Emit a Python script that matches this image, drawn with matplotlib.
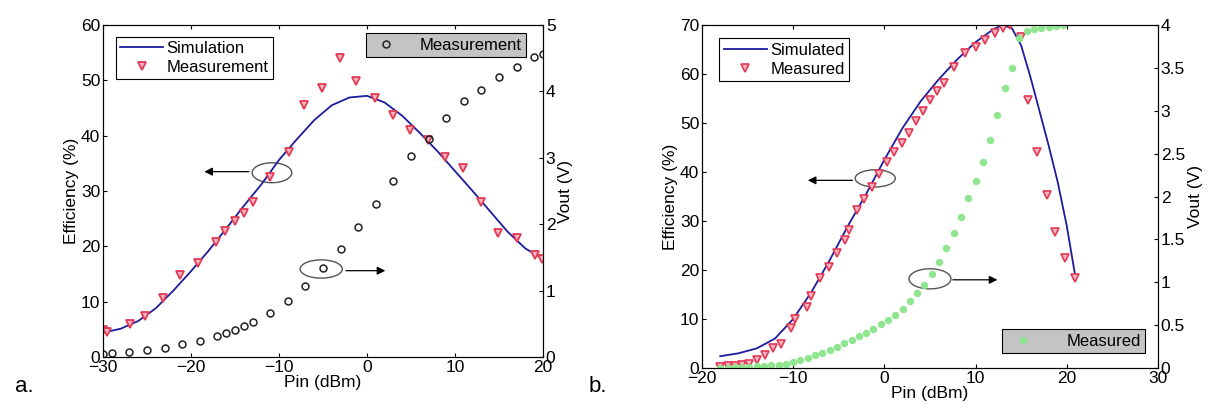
import matplotlib
matplotlib.use("Agg")
import matplotlib.pyplot as plt
from matplotlib.patches import Ellipse

plt.rcParams["font.family"] = ["Liberation Sans", "DejaVu Sans"]
plt.rcParams["font.size"] = 12

# ---- panel a data ----
a_sim_x = [-30, -28, -26, -24, -22, -20, -18, -16, -14, -12, -10, -8, -6, -4, -2, 0,
           2, 4, 6, 8, 10, 12, 14, 16, 18, 20]
a_sim_eff = [4.4, 5.1, 6.5, 8.8, 12.0, 15.5, 19.2, 23.2, 27.3, 31.2, 35.6, 39.3, 42.8,
             45.5, 46.9, 47.2, 46.0, 43.6, 40.5, 37.2, 33.6, 30.0, 26.3, 22.6, 19.6, 17.8]

a_meas_x = [-30, -29.5, -26.9, -25.2, -23.2, -21.3, -19.2, -17.2, -16.1, -15.0, -14.0,
            -12.9, -11.0, -8.9, -7.2, -5.1, -3.1, -1.2, 0.9, 2.9, 4.9, 6.9, 8.9, 10.9,
            13.0, 14.9, 17.0, 19.1, 19.9]
a_meas_eff = [4.8, 4.5, 6.0, 7.4, 10.6, 14.8, 16.9, 20.7, 22.7, 24.5, 26.0, 28.1, 32.6,
              37.1, 45.6, 48.6, 54.0, 49.8, 46.8, 43.8, 41.0, 39.2, 36.2, 34.1, 28.1,
              22.4, 21.5, 18.4, 17.8]

a_vout_x = [-30, -29, -27, -25, -23, -21, -19, -17, -16, -15, -14, -13, -11, -9, -7, -5,
            -3, -1, 1, 3, 5, 7, 9, 11, 13, 15, 17, 19, 20]
a_vout = [0.05, 0.06, 0.08, 0.10, 0.14, 0.20, 0.24, 0.32, 0.36, 0.40, 0.46, 0.52, 0.67,
          0.85, 1.07, 1.34, 1.62, 1.96, 2.31, 2.65, 3.02, 3.29, 3.60, 3.85, 4.02, 4.22,
          4.37, 4.52, 4.57]

# ---- panel b data ----
b_sim_x = [-18, -16, -14, -12, -10, -8, -6, -4, -2, 0, 2, 4, 6, 8, 10, 12, 13, 14, 15,
           16, 17, 18, 19, 20, 21]
b_sim_eff = [2.4, 3.0, 4.0, 6.0, 10.0, 15.5, 22.0, 29.0, 35.5, 42.5, 49.0, 54.5, 59.0,
             63.0, 66.5, 69.2, 70.0, 69.3, 65.8, 59.5, 52.5, 45.5, 38.0, 29.0, 18.0]

b_meas_x = [-18, -17.2, -16.4, -15.6, -14.8, -14.0, -13.1, -12.2, -11.3, -10.2, -9.8,
            -8.5, -8.0, -7.1, -6.1, -5.2, -4.3, -3.9, -3.0, -2.2, -1.4, -0.6, 0.3, 1.1,
            1.9, 2.7, 3.5, 4.2, 5.0, 5.8, 6.5, 7.6, 8.8, 10.1, 11.0, 12.1, 13.0, 13.8,
            15.0, 15.8, 16.7, 17.8, 18.7, 19.8, 20.9]
b_meas_eff = [0.3, 0.4, 0.5, 0.6, 0.9, 1.6, 2.6, 4.0, 5.0, 8.1, 10.1, 12.5, 14.6, 18.3,
              20.7, 23.4, 26.1, 28.2, 32.2, 34.5, 37.0, 39.5, 42.0, 44.0, 46.0, 48.0,
              50.5, 52.5, 54.7, 56.5, 58.1, 61.5, 64.2, 65.6, 66.9, 68.3, 69.3, 70.0,
              67.6, 54.7, 44.1, 35.3, 27.8, 22.4, 18.3]

b_vout_x = [-18, -17.2, -16.4, -15.6, -14.8, -14, -13.2, -12.4, -11.6, -10.8, -10, -9.2,
            -8.4, -7.6, -6.8, -6, -5.2, -4.4, -3.6, -2.8, -2, -1.2, -0.4, 0.4, 1.2, 2,
            2.8, 3.6, 4.4, 5.2, 6, 6.8, 7.6, 8.4, 9.2, 10, 10.8, 11.6, 12.4, 13.2, 14,
            14.8, 15.6, 16.4, 17.2, 18, 18.8, 19.6]
b_vout = [0.0, 0.0, 0.01, 0.01, 0.01, 0.02, 0.02, 0.03, 0.04, 0.05, 0.07, 0.09, 0.12,
          0.15, 0.18, 0.21, 0.25, 0.29, 0.33, 0.37, 0.41, 0.46, 0.51, 0.56, 0.62, 0.69,
          0.78, 0.87, 0.97, 1.10, 1.24, 1.40, 1.57, 1.76, 1.98, 2.18, 2.40, 2.66, 2.95,
          3.26, 3.50, 3.85, 3.93, 3.95, 3.97, 3.98, 3.99, 4.0]

BLUE = "#1c1c9c"
RED = "#e23a55"
GREEN = "#8ee68e"

fig = plt.figure(figsize=(12.17, 4.17), dpi=100)

# ================= panel a =================
ax = fig.add_axes([0.0846, 0.1439, 0.3616, 0.7961])
ax.plot(a_sim_x, a_sim_eff, color=BLUE, lw=1.3, label="Simulation", zorder=3)
ax.plot(a_meas_x, a_meas_eff, ls="none", marker="v", ms=6, mfc="#f6b3c0", mec=RED,
        mew=1.3, label="Measurement", zorder=4)
ax.set_xlim(-30, 20)
ax.set_ylim(0, 60)
ax.set_xticks([-30, -20, -10, 0, 10, 20])
ax.set_yticks([0, 10, 20, 30, 40, 50, 60])
ax.set_xlabel("Pin (dBm)", labelpad=0, fontsize=12.5)
ax.set_ylabel("Efficiency (%)", labelpad=1, fontsize=12.5)
ax.tick_params(direction="in", top=True, length=3, labelsize=12.5, pad=2)
leg = ax.legend(loc="upper left", fancybox=False, edgecolor="k", framealpha=1,
                handlelength=2.6, handletextpad=0.2, borderpad=0.25, labelspacing=0.25,
                bbox_to_anchor=(0.01, 0.99), fontsize=12)
leg.get_frame().set_linewidth(0.8)

ax.add_patch(Ellipse((-10.8, 33.3), 4.5, 3.6, fill=False, ec="#555555", lw=1))
ax.annotate("", xy=(-18.8, 33.5), xytext=(-13.1, 33.5),
            arrowprops=dict(arrowstyle="-|>", color="k", lw=0.9, mutation_scale=12))
ax.add_patch(Ellipse((-5.2, 15.9), 4.8, 3.3, fill=False, ec="#555555", lw=1))
ax.annotate("", xy=(2.4, 15.6), xytext=(-2.7, 15.6),
            arrowprops=dict(arrowstyle="-|>", color="k", lw=0.9, mutation_scale=12))

ax2 = ax.twinx()
ax2.plot(a_vout_x, a_vout, ls="none", marker="o", ms=5, mfc="none", mec="#222222",
         mew=1.1, label="Measurement")
ax2.set_ylim(0, 5)
ax2.set_yticks([0, 1, 2, 3, 4, 5])
ax2.set_ylabel("Vout (V)", labelpad=2, fontsize=12.5)
ax2.tick_params(direction="in", length=3, labelsize=12.5, pad=2)
leg2 = ax2.legend(loc="upper right", fancybox=False, edgecolor="k", facecolor="#c4c4c4",
                  framealpha=1, borderpad=0.25, handletextpad=1.0, fontsize=12,
                  bbox_to_anchor=(0.98, 1.0))
leg2.get_frame().set_linewidth(0.8)

# ================= panel b =================
bx = fig.add_axes([0.5768, 0.1175, 0.3747, 0.8225])
bx.plot(b_sim_x, b_sim_eff, color=BLUE, lw=1.3, label="Simulated", zorder=3)
bx.plot(b_meas_x, b_meas_eff, ls="none", marker="v", ms=6, mfc="#f6b3c0", mec=RED,
        mew=1.2, label="Measured", zorder=4)
bx.set_xlim(-20, 30)
bx.set_ylim(0, 70)
bx.set_xticks([-20, -10, 0, 10, 20, 30])
bx.set_yticks([0, 10, 20, 30, 40, 50, 60, 70])
bx.set_xlabel("Pin (dBm)", labelpad=0, fontsize=12.5)
bx.set_ylabel("Efficiency (%)", labelpad=1, fontsize=12.5)
bx.tick_params(direction="in", top=True, length=3, labelsize=12.5, pad=2)
legb = bx.legend(loc="upper left", fancybox=False, edgecolor="k", framealpha=1,
                 handlelength=2.6, handletextpad=0.2, borderpad=0.25, labelspacing=0.25,
                 bbox_to_anchor=(0.02, 0.985), fontsize=12)
legb.get_frame().set_linewidth(0.8)

bx.add_patch(Ellipse((-1.0, 38.7), 4.4, 3.5, fill=False, ec="#555555", lw=1))
bx.annotate("", xy=(-8.7, 38.3), xytext=(-3.2, 38.3),
            arrowprops=dict(arrowstyle="-|>", color="k", lw=0.9, mutation_scale=12))
bx.add_patch(Ellipse((5.0, 18.2), 4.6, 4.1, fill=False, ec="#555555", lw=1))
bx.annotate("", xy=(12.7, 18.0), xytext=(7.2, 18.0),
            arrowprops=dict(arrowstyle="-|>", color="k", lw=0.9, mutation_scale=12))

bx2 = bx.twinx()
bx2.plot(b_vout_x, b_vout, ls="none", marker="o", ms=4.5, mfc=GREEN, mec=GREEN,
         mew=0.8, label="Measured")
bx2.set_ylim(0, 4)
bx2.set_yticks([0, 0.5, 1, 1.5, 2, 2.5, 3, 3.5, 4])
bx2.set_yticklabels(["0", "0.5", "1", "1.5", "2", "2.5", "3", "3.5", "4"])
bx2.set_ylabel("Vout (V)", labelpad=2, fontsize=12.5)
bx2.tick_params(direction="in", length=3, labelsize=12.5, pad=2)
legb2 = bx2.legend(loc="lower right", fancybox=False, edgecolor="k", facecolor="#c4c4c4",
                   framealpha=1, borderpad=0.25, handletextpad=1.6, fontsize=12,
                   bbox_to_anchor=(0.99, 0.02))
legb2.get_frame().set_linewidth(0.8)

fig.text(0.012, 0.06, "a.", fontsize=16)
fig.text(0.484, 0.06, "b.", fontsize=16)

fig.savefig("out.png", dpi=100)
